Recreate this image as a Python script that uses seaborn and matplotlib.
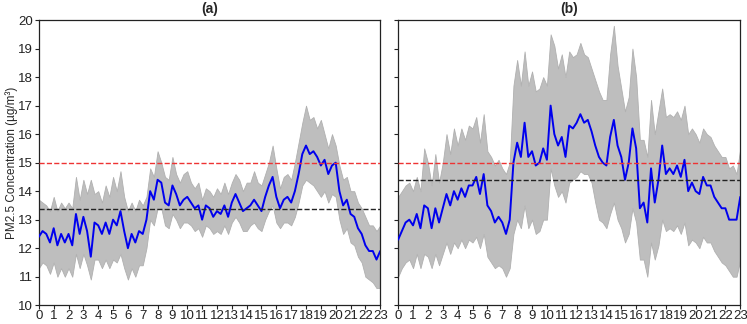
import matplotlib
matplotlib.use("Agg")
import matplotlib.pyplot as plt
import numpy as np
import pandas as pd
import seaborn as sns

# quarter-hour positions 0 .. 23
hours = [i / 4 for i in range(93)]

# panel (a): mean and band, values read at each quarter hour
a_mean = [12.4, 12.6, 12.5, 12.2, 12.7, 12.1, 12.5, 12.2, 12.5, 12.1, 13.2, 12.5,
          13.1, 12.6, 11.7, 12.9, 12.8, 12.5, 12.9, 12.5, 13.0, 12.8, 13.3, 12.6,
          12.0, 12.5, 12.2, 12.6, 12.5, 13.0, 14.0, 13.7, 14.4, 14.3, 13.6, 13.5,
          14.2, 13.9, 13.5, 13.7, 13.8, 13.6, 13.4, 13.5, 13.0, 13.5, 13.4, 13.1,
          13.3, 13.2, 13.5, 13.1, 13.6, 13.9, 13.6, 13.3, 13.4, 13.5, 13.7, 13.5,
          13.3, 13.8, 14.2, 14.5, 13.8, 13.4, 13.7, 13.8, 13.6, 14.0, 14.6, 15.3,
          15.6, 15.3, 15.4, 15.2, 14.9, 15.1, 14.6, 14.9, 15.0, 14.0, 13.5, 13.7,
          13.2, 13.1, 12.7, 12.5, 12.1, 11.9, 11.9, 11.6, 11.9]
a_upper = [13.7, 13.6, 13.5, 13.3, 13.8, 13.3, 13.6, 13.4, 13.6, 13.4, 14.5, 13.7,
           14.4, 13.9, 14.4, 13.9, 14.0, 13.6, 14.2, 13.8, 14.5, 14.0, 14.7, 13.8,
           13.3, 13.6, 13.3, 13.7, 13.5, 13.8, 14.8, 14.5, 15.4, 15.0, 14.5, 14.4,
           15.2, 14.6, 14.3, 14.6, 14.7, 14.3, 14.1, 14.3, 13.7, 14.1, 14.0, 13.8,
           14.1, 13.9, 14.3, 13.9, 14.3, 14.6, 14.4, 14.0, 14.3, 14.3, 14.7, 14.3,
           14.2, 14.6, 15.0, 15.6, 14.8, 14.1, 14.5, 14.6, 14.4, 15.0, 15.7, 16.4,
           17.0, 16.5, 16.6, 16.2, 16.5, 16.0, 15.5, 16.0, 15.6, 14.9, 14.4, 14.5,
           14.0, 14.0, 13.6, 13.4, 13.1, 12.8, 12.8, 12.6, 12.8]
a_lower = [11.3, 11.5, 11.4, 11.1, 11.5, 11.0, 11.3, 11.0, 11.3, 11.0, 11.8, 11.3,
           11.8, 11.4, 10.9, 11.6, 11.6, 11.3, 11.6, 11.3, 11.6, 11.5, 11.8, 11.3,
           10.9, 11.3, 11.0, 11.4, 11.4, 12.0, 13.0, 12.8, 13.4, 13.4, 12.8, 12.7,
           13.2, 13.0, 12.7, 12.9, 12.9, 12.8, 12.6, 12.7, 12.4, 12.8, 12.7, 12.5,
           12.6, 12.5, 12.8, 12.5, 12.9, 13.1, 12.9, 12.6, 12.6, 12.8, 12.9, 12.7,
           12.6, 13.0, 13.3, 13.5, 12.9, 12.7, 12.9, 12.9, 12.8, 13.1, 13.6, 14.2,
           14.4, 14.3, 14.2, 14.0, 13.8, 14.0, 13.6, 13.9, 13.8, 13.0, 12.5, 12.7,
           12.2, 12.1, 11.7, 11.5, 11.0, 10.9, 10.8, 10.6, 10.6]
a_avg = 13.37

# panel (b)
b_mean = [12.3, 12.6, 12.9, 13.0, 12.8, 13.2, 12.7, 13.5, 13.4, 12.7, 13.4, 12.9,
          13.4, 13.9, 13.5, 14.0, 13.7, 14.1, 13.8, 14.2, 14.2, 14.5, 13.9, 14.6,
          13.5, 13.3, 12.9, 13.1, 12.9, 12.5, 13.0, 15.0, 15.7, 15.2, 16.4, 15.2,
          15.4, 14.9, 15.0, 15.5, 15.1, 17.0, 16.0, 15.6, 15.9, 15.2, 16.3, 16.2,
          16.4, 16.7, 16.4, 16.5, 16.1, 15.6, 15.2, 15.0, 14.9, 15.9, 16.5, 15.6,
          15.2, 14.4, 15.0, 16.2, 15.5, 13.4, 13.6, 12.9, 14.8, 13.6, 14.4, 15.6,
          14.6, 14.8, 14.6, 14.9, 14.5, 15.1, 14.0, 14.3, 14.0, 13.9, 14.5, 14.2,
          14.2, 13.8, 13.6, 13.4, 13.4, 13.0, 13.0, 13.0, 13.8]
b_upper = [13.8, 14.0, 14.2, 14.3, 14.0, 14.5, 14.0, 15.5, 15.0, 14.2, 15.3, 14.3,
           15.0, 16.0, 15.3, 16.2, 15.6, 16.2, 15.8, 16.3, 16.2, 16.6, 15.7, 16.7,
           15.4, 15.2, 14.9, 15.1, 14.8, 14.6, 15.0, 17.7, 18.6, 17.7, 18.9, 17.7,
           18.2, 17.5, 17.6, 18.0, 17.7, 19.5, 19.1, 18.3, 18.8, 18.0, 18.9, 18.7,
           18.8, 19.2, 18.8, 18.7, 18.3, 17.9, 17.5, 17.2, 17.2, 18.8, 19.8, 18.4,
           17.6, 16.8, 17.3, 19.0, 18.0, 15.8, 15.8, 15.2, 17.2, 16.0, 16.8, 17.6,
           16.6, 16.7, 16.6, 16.8, 16.5, 17.0, 16.0, 16.2, 16.0, 15.7, 16.2, 16.0,
           15.9, 15.6, 15.4, 15.2, 15.2, 14.8, 14.9, 14.6, 15.5]
b_lower = [11.0, 11.3, 11.5, 11.6, 11.3, 11.8, 11.3, 11.8, 11.7, 11.3, 11.8, 11.4,
           11.8, 12.2, 11.8, 12.2, 12.0, 12.3, 12.0, 12.3, 12.2, 12.4, 12.0, 12.5,
           11.7, 11.5, 11.3, 11.4, 11.3, 11.0, 11.3, 12.5, 13.0, 12.7, 13.5, 12.7,
           13.0, 12.5, 12.6, 13.0, 13.0, 14.8, 14.2, 13.8, 14.0, 13.6, 14.3, 14.4,
           14.5, 14.7, 14.6, 14.6, 14.3, 13.6, 13.0, 12.9, 12.7, 13.2, 13.6, 13.0,
           12.7, 12.2, 12.5, 13.4, 12.9, 11.6, 11.6, 11.0, 12.2, 11.6, 12.1, 13.0,
           12.6, 12.7, 12.6, 12.8, 12.5, 12.9, 12.1, 12.3, 12.2, 12.0, 12.4, 12.2,
           12.2, 11.9, 11.7, 11.5, 11.4, 11.2, 11.0, 11.0, 11.6]
b_avg = 14.38

limit = 15.0
panels = [("(a)", a_mean, a_upper, a_lower, a_avg),
          ("(b)", b_mean, b_upper, b_lower, b_avg)]

sns.set_style("ticks")
plt.rcParams['font.family'] = ['Liberation Sans', 'DejaVu Sans']

fig = plt.figure(figsize=(7.47, 3.24), dpi=100)
ax_a = fig.add_axes([0.052, 0.058, 0.457, 0.880])
ax_b = fig.add_axes([0.533, 0.058, 0.458, 0.880], sharey=ax_a)

for ax, (title, mean, upper, lower, avg) in zip([ax_a, ax_b], panels):
    df = pd.DataFrame({"hour": hours, "pm": mean})
    ax.fill_between(hours, lower, upper, color='#bebebe', linewidth=0.6,
                    edgecolor='#b0b0b0', zorder=1)
    sns.lineplot(data=df, x="hour", y="pm", ax=ax, color='#0000ee',
                 linewidth=1.4, zorder=3)
    ax.axhline(limit, color='#ee3333', linestyle='--', linewidth=1.0, zorder=4)
    ax.axhline(avg, color='#222222', linestyle='--', linewidth=1.0, zorder=4)
    ax.set_xlim(0, 23)
    ax.set_ylim(10, 20)
    ax.set_xticks(range(24))
    ax.set_yticks(range(10, 21))
    ax.tick_params(axis='both', labelsize=9.5, length=3, width=0.8,
                   colors='#222222')
    ax.tick_params(axis='x', pad=0.5)
    ax.tick_params(axis='y', pad=1)
    for s in ax.spines.values():
        s.set_visible(True)
        s.set_linewidth(0.9)
        s.set_color('#222222')
    ax.set_title(title, fontsize=10, fontweight='bold', pad=5)
    ax.set_xlabel("")
    ax.set_ylabel("")

ax_a.set_ylabel("PM2.5 Concentration (µg/m³)", fontsize=8.5)
ax_a.yaxis.set_label_coords(-0.062, 0.5)
ax_b.tick_params(axis='y', labelleft=False)

fig.savefig("out.png", dpi=100)
